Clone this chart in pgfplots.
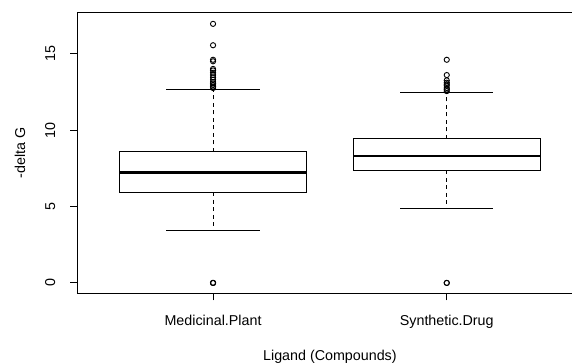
\documentclass[border=0pt]{standalone}
\usepackage{pgfplots}
\pgfplotsset{compat=1.18}
\usepgfplotslibrary{statistics}
\usepackage{fontspec}
\setmainfont{Liberation Sans}
\begin{document}
\begin{tikzpicture}[font=\fontsize{14.3}{17}\selectfont]
\begin{axis}[name=ax, scale only axis, width=504.8pt, height=280.6pt,
  xmin=0.42, xmax=2.58, ymin=-0.68, ymax=17.68,
  xtick={1,2}, xticklabels={Medicinal.Plant, Synthetic.Drug},
  ytick={0,5,10,15},
  /pgf/number format/assume math mode=true,
  tick align=outside, major tick length=7pt,
  xtick pos=bottom, ytick pos=left,
  axis line style={line width=0.9pt}, tick style={line width=0.9pt, black},
  yticklabel style={rotate=90, anchor=south, inner sep=15pt},
  xticklabel style={anchor=north, inner sep=0pt, yshift=-15pt},
  ylabel={-delta G}, xlabel={Ligand (Compounds)},
  ylabel style={at={(axis description cs:-0.114,0.5)}, anchor=center},
  xlabel style={at={(axis description cs:0.5,-0.227)}, anchor=center},
  boxplot/draw direction=y,
  boxplot/box extend=0.8, boxplot/whisker extend=0,
  boxplot/every whisker/.style={dash pattern=on 4pt off 3.5pt, line width=0.9pt},
  boxplot/every box/.style={solid, line width=0.9pt},
  boxplot/every median/.style={solid, line width=2.8pt},
]
\addplot[black, mark=o, mark size=2.6pt, mark options={line width=0.9pt, solid},
  boxplot prepared={draw position=1, lower whisker=3.45, lower quartile=5.92,
    median=7.23, upper quartile=8.58, upper whisker=12.69}]
  table[row sep=\\, y index=0] {0\\0\\0\\12.75\\12.85\\12.95\\13.05\\13.15\\13.3\\13.45\\13.6\\13.75\\13.9\\14.0\\14.5\\14.6\\15.55\\16.95\\};
\addplot[black, mark=o, mark size=2.6pt, mark options={line width=0.9pt, solid},
  boxplot prepared={draw position=2, lower whisker=4.87, lower quartile=7.36,
    median=8.30, upper quartile=9.43, upper whisker=12.45}]
  table[row sep=\\, y index=0] {0\\0\\12.55\\12.65\\12.75\\12.9\\13.0\\13.1\\13.25\\13.6\\14.6\\};
% whisker staples
\addplot[black, line width=0.9pt, no markers, forget plot] coordinates {(0.8,3.45) (1.2,3.45)};
\addplot[black, line width=0.9pt, no markers, forget plot] coordinates {(0.8,12.69) (1.2,12.69)};
\addplot[black, line width=0.9pt, no markers, forget plot] coordinates {(1.8,4.87) (2.2,4.87)};
\addplot[black, line width=0.9pt, no markers, forget plot] coordinates {(1.8,12.45) (2.2,12.45)};
\end{axis}
\pgfresetboundingbox
\path ([xshift=-77.5pt,yshift=-69.7pt]ax.south west) rectangle ([xshift=-10.3pt,yshift=12.7pt]ax.north east);
\end{tikzpicture}
\end{document}
